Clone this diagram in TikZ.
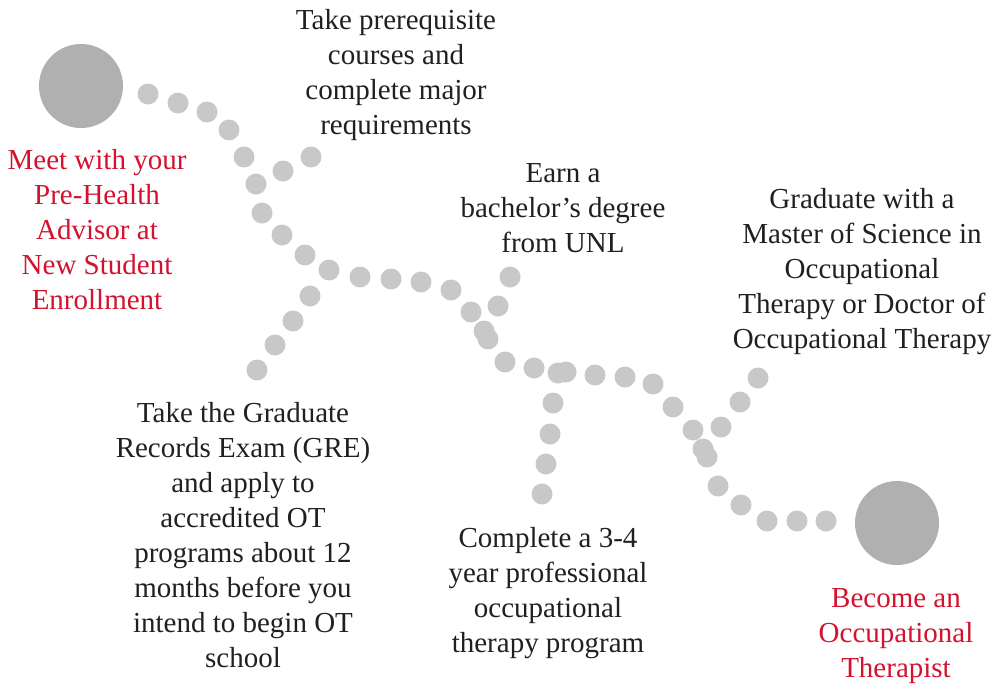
\documentclass[tikz,border=0pt]{standalone}
\usepackage{fontspec}
\setmainfont{Liberation Serif}
\usetikzlibrary{positioning}
\definecolor{unlred}{HTML}{D2122E}
\definecolor{dotgray}{HTML}{C8C8C8}
\definecolor{stopgray}{HTML}{B0B0B0}
\definecolor{textgray}{HTML}{231F20}

\begin{document}
\begin{tikzpicture}[x=0.5pt,y=-0.5pt,
    dot/.style={circle, fill=dotgray, inner sep=0pt, minimum size=10.5pt},
    stop/.style={circle, fill=stopgray, inner sep=0pt, minimum size=42pt},
    steptext/.style={align=center, text=textgray, font=\fontsize{14.5}{17.5}\selectfont},
    goaltext/.style={steptext, text=unlred}]
    \useasboundingbox (0,0) rectangle (995,685);

    % Start and finish
    \node[stop] (start) at (81,86) {};
    \node[stop] (finish) at (897,523) {};

    % Main path of dots
    \foreach \x/\y [count=\i] in {148/94, 178/103, 207/112, 229/130, 244/157, 256/184,
        262/213, 282/235, 305/255, 329/270, 360/277, 391/279, 421/282, 451/290,
        471/312, 484/331, 488/339, 505/362, 534/368, 558/373, 566/372, 595/375,
        625/377, 653/384, 673/407, 693/430, 703/449, 707/457, 718/486, 741/505,
        767/521, 797/521, 826/521}
        \node[dot] (m\i) at (\x,\y) {};

    % Branches
    \foreach \x/\y [count=\i] in {283/171, 311/157}
        \node[dot] (p\i) at (\x,\y) {};
    \foreach \x/\y [count=\i] in {310/296, 293/321, 275/345, 257/370}
        \node[dot] (g\i) at (\x,\y) {};
    \foreach \x/\y [count=\i] in {498/306, 510/277}
        \node[dot] (b\i) at (\x,\y) {};
    \foreach \x/\y [count=\i] in {553/403, 550/434, 546/464, 542/494}
        \node[dot] (c\i) at (\x,\y) {};
    \foreach \x/\y [count=\i] in {721/427, 740/402, 758/378}
        \node[dot] (o\i) at (\x,\y) {};

    % Labels
    \node[goaltext] (meet) at (97,230) {Meet with your\\Pre-Health\\Advisor at\\New Student\\Enrollment};
    \node[steptext] (prereq) at (396,75) {Take prerequisite\\courses and\\complete major\\requirements};
    \node[steptext] (degree) at (563,208) {Earn a\\bachelor’s degree\\from UNL};
    \node[steptext] (master) at (862,272) {Graduate with a\\Master of Science in\\Occupational\\Therapy or Doctor of\\Occupational Therapy};
    \node[steptext] (gre) at (243,535) {Take the Graduate\\Records Exam (GRE)\\and apply to\\accredited OT\\programs about 12\\months before you\\intend to begin OT\\school};
    \node[steptext] (program) at (548,593) {Complete a 3-4\\year professional\\occupational\\therapy program};
    \node[goaltext] (become) at (896,636) {Become an\\Occupational\\Therapist};
\end{tikzpicture}
\end{document}
